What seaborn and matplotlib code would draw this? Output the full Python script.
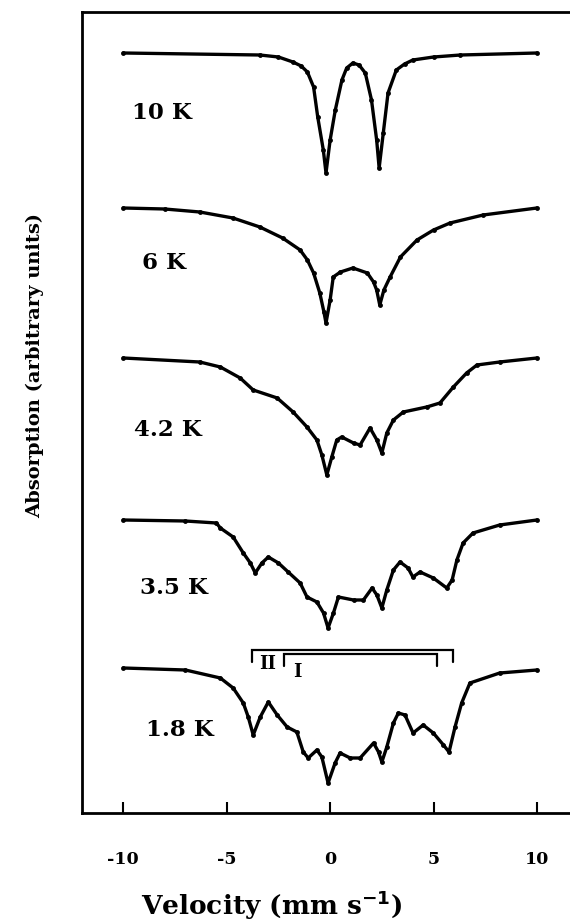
import numpy as np
import pandas as pd
import matplotlib
matplotlib.use("Agg")
import matplotlib.pyplot as plt
import seaborn as sns

# Mossbauer spectra: velocity (mm/s) and relative absorption depth below each baseline
temperatures = ["10 K", "6 K", "4.2 K", "3.5 K", "1.8 K"]

v_10K = [-10, -3.4, -2.5, -1.8, -1.4, -1.1, -0.8, -0.6, -0.33, -0.2, 0.0, 0.25, 0.57,
         0.8, 1.1, 1.4, 1.7, 2.0, 2.25, 2.37, 2.57, 2.8, 3.2, 3.6, 4.0, 5.0, 6.3, 10]
a_10K = [0, -0.02, -0.04, -0.09, -0.13, -0.19, -0.34, -0.64, -0.97, -1.20, -0.87, -0.57,
         -0.27, -0.15, -0.10, -0.12, -0.20, -0.47, -0.87, -1.15, -0.80, -0.40, -0.17,
         -0.11, -0.07, -0.04, -0.02, 0]

v_6K = [-10, -8, -6.3, -4.7, -3.4, -2.3, -1.45, -1.1, -0.8, -0.5, -0.3, -0.2, 0.0, 0.15,
        0.5, 1.1, 1.8, 2.1, 2.25, 2.4, 2.6, 2.9, 3.4, 4.2, 5.0, 5.8, 7.4, 10]
a_6K = [0, -0.01, -0.04, -0.10, -0.19, -0.30, -0.42, -0.52, -0.65, -0.85, -1.04, -1.15,
        -0.92, -0.69, -0.64, -0.60, -0.65, -0.74, -0.82, -0.97, -0.82, -0.69, -0.49,
        -0.32, -0.22, -0.15, -0.07, 0]

v_4K = [-10, -6.3, -5.31, -4.35, -3.72, -2.56, -1.79, -1.12, -0.64, -0.4, -0.16, 0.08,
        0.32, 0.56, 1.13, 1.45, 1.93, 2.26, 2.5, 2.74, 3.06, 3.54, 4.67, 5.31, 5.96,
        6.6, 7.1, 8.2, 10]
a_4K = [0, -0.04, -0.09, -0.20, -0.32, -0.40, -0.54, -0.69, -0.82, -0.97, -1.17, -0.99,
        -0.82, -0.79, -0.85, -0.87, -0.70, -0.82, -0.95, -0.75, -0.62, -0.54, -0.49,
        -0.45, -0.29, -0.15, -0.07, -0.04, 0]

v_35K = [-10, -7, -5.5, -5.31, -4.69, -4.2, -3.86, -3.62, -3.3, -2.99, -2.5, -2.03,
         -1.45, -1.12, -0.64, -0.32, -0.1, 0.16, 0.4, 1.13, 1.61, 2.03, 2.26, 2.5, 2.74,
         3.06, 3.38, 3.77, 4.0, 4.35, 4.99, 5.64, 5.9, 6.13, 6.43, 6.91, 8.2, 10]
a_35K = [0, -0.01, -0.03, -0.08, -0.17, -0.33, -0.43, -0.53, -0.43, -0.37, -0.43, -0.52,
         -0.63, -0.77, -0.82, -0.93, -1.08, -0.93, -0.77, -0.80, -0.80, -0.68, -0.75,
         -0.88, -0.70, -0.50, -0.42, -0.48, -0.57, -0.52, -0.58, -0.68, -0.60, -0.40,
         -0.23, -0.13, -0.05, 0]

v_18K = [-10, -7, -5.31, -4.69, -4.2, -3.96, -3.72, -3.38, -2.99, -2.56, -2.08, -1.61,
         -1.3, -1.06, -0.64, -0.4, -0.1, 0.24, 0.48, 0.97, 1.45, 2.1, 2.34, 2.5, 2.74,
         3.06, 3.3, 3.62, 4.01, 4.5, 4.99, 5.48, 5.75, 6.04, 6.36, 6.76, 8.2, 10]
a_18K = [0, -0.02, -0.10, -0.20, -0.35, -0.49, -0.67, -0.49, -0.34, -0.47, -0.59, -0.64,
         -0.84, -0.90, -0.82, -0.89, -1.15, -0.95, -0.85, -0.90, -0.90, -0.75, -0.84,
         -0.94, -0.79, -0.55, -0.45, -0.47, -0.65, -0.57, -0.65, -0.77, -0.84, -0.59,
         -0.35, -0.15, -0.05, -0.02]

velocities = [v_10K, v_6K, v_4K, v_35K, v_18K]
absorptions = [a_10K, a_6K, a_4K, a_35K, a_18K]

# hyperfine sextet sites marked above the 1.8 K spectrum (outer lines, mm/s)
site_II = [-3.8, 5.95]
site_I = [-2.25, 5.15]
site_names = ["II", "I"]

xticks = [-10, -5, 0, 5, 10]

# vertical stacking of the spectra and label placement
stack_offsets = [7.60, 6.05, 4.55, 2.93, 1.45]
label_x = [-9.57, -9.08, -9.50, -9.20, -8.90]
label_dy = [-0.60, -0.55, -0.72, -0.68, -0.62]

frames = []
for t, v, a, off in zip(temperatures, velocities, absorptions, stack_offsets):
    frames.append(pd.DataFrame({"velocity": v,
                                "absorption": np.asarray(a) + off,
                                "temperature": t}))
df = pd.concat(frames, ignore_index=True)

sns.set_theme(style="ticks")
plt.rcParams["font.family"] = ["DejaVu Serif"]
plt.rcParams["font.weight"] = "bold"
plt.rcParams["text.color"] = "black"
plt.rcParams["axes.labelcolor"] = "black"
plt.rcParams["xtick.color"] = "black"

fig = plt.figure(figsize=(5.70, 9.23), dpi=100)
ax = fig.add_axes([82 / 570, 1 - 813 / 923, 1 - 82 / 570, (813 - 12) / 923])

sns.lineplot(data=df, x="velocity", y="absorption", units="temperature",
             estimator=None, sort=False, color="black", linewidth=2.4,
             marker="o", markersize=3.5, markeredgewidth=0, ax=ax, legend=False)

for t, lx, dy, off in zip(temperatures, label_x, label_dy, stack_offsets):
    ax.text(lx, off + dy, t, ha="left", va="center", fontsize=16.5,
            fontweight="bold", color="black")

# brackets for sites II and I
b_base = stack_offsets[4]
for (lo, hi), top, drop in zip([site_II, site_I], [0.18, 0.14], [0.12, 0.12]):
    y_top = b_base + top
    ax.plot([lo, lo, hi, hi], [y_top - drop, y_top, y_top, y_top - drop],
            color="black", linewidth=1.6, solid_joinstyle="miter")
ax.text(-3.0, b_base + 0.04, site_names[0], ha="center", va="center",
        fontsize=13, fontweight="bold", color="black")
ax.text(-1.6, b_base - 0.04, site_names[1], ha="center", va="center",
        fontsize=13, fontweight="bold", color="black")

ax.set_xlim(-12, 11.6)
ax.set_ylim(0, 8.01)
ax.set_xticks(xticks)
ax.set_xticklabels([str(x) for x in xticks], fontsize=12.5, fontweight="bold")
ax.set_yticks([])
ax.tick_params(axis="x", direction="in", length=8, width=1.5, pad=27, colors="black")

for side in ["left", "bottom", "top"]:
    ax.spines[side].set_linewidth(2.0)
    ax.spines[side].set_color("black")
ax.spines["right"].set_visible(False)

ax.set_xlabel("Velocity (mm s$^{\\mathbf{-1}}$)", fontsize=19, fontweight="bold",
              color="black")
ax.xaxis.set_label_coords((272 - 82) / 488, (813 - 905) / 801)
ax.set_ylabel("Absorption (arbitrary units)", fontsize=14, fontweight="bold",
              color="black")
ax.yaxis.set_label_coords((35 - 82) / 488, (813 - 366) / 801)
ax.xaxis.label.set_va("center")
ax.yaxis.label.set_va("center")

fig.savefig("out.png", dpi=100, facecolor="white")
